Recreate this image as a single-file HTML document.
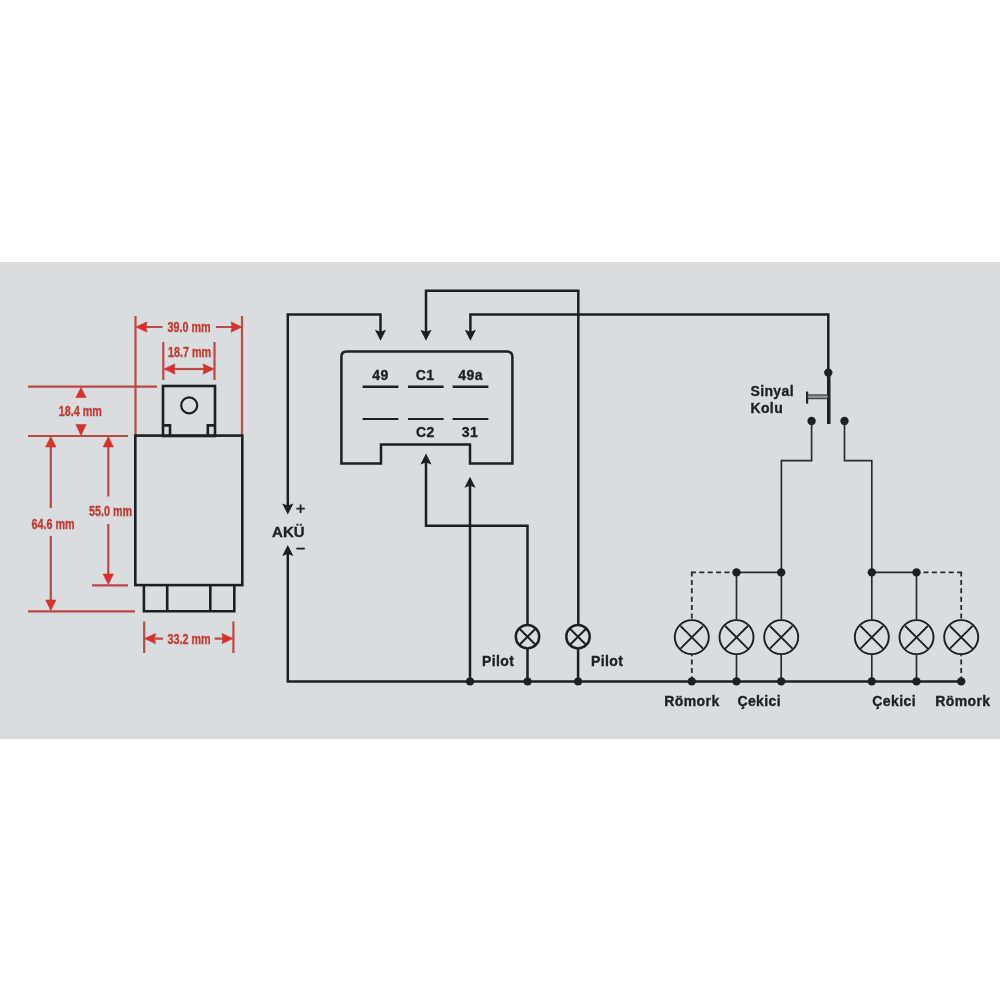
<!DOCTYPE html>
<html><head><meta charset="utf-8">
<style>
html,body{margin:0;padding:0;background:#fff;width:1000px;height:1000px;overflow:hidden}
svg{display:block;will-change:transform}
.r{font-family:"Liberation Sans",sans-serif;font-weight:bold;fill:#c43a31;stroke:#c43a31;stroke-width:0.35}
.t{font-family:"Liberation Sans",sans-serif;font-weight:bold;fill:#1f2023;stroke:#1f2023;stroke-width:0.35}
</style></head>
<body>
<svg width="1000" height="1000" viewBox="0 0 1000 1000">
<rect x="0" y="262" width="1000" height="477" fill="#d9dde0"/>
<rect x="0" y="262" width="1000" height="9" fill="#dcdcdc"/>
<rect x="0" y="736" width="1000" height="3" fill="#dadada"/>

<!-- RED dimensions -->
<g stroke="#bb4a44" stroke-width="2.2" fill="none">
  <path d="M135.5 316V436M242 316V436"/>
  <path d="M146 327H162.5M216 327H232"/>
  <path d="M163.3 342V380M214.5 342V380"/>
  <path d="M173 369H205"/>
  <path d="M28 386.6H157M28 436H128M28 611.3H135M92 585.3H128"/>
  <path d="M50.8 446V508M50.8 536V601"/>
  <path d="M108.3 446V496.5M108.3 524V575"/>
  <path d="M144.2 621.6V653M233.4 621.6V653"/>
  <path d="M155 638.6H163M214.6 638.6H223"/>
</g>
<g fill="#dc2f2c" stroke="#c0302c" stroke-width="0.5">
  <path d="M136 327L147 321.8L146 327L147 332.2Z"/>
  <path d="M242 327L231 321.8L232 327L231 332.2Z"/>
  <path d="M164 369L175 363.8L174 369L175 374.2Z"/>
  <path d="M214 369L203 363.8L204 369L203 374.2Z"/>
  <path d="M81 387.5L86.2 397.5L75.8 397.5Z"/>
  <path d="M81 435.5L86.2 424.5L75.8 424.5Z"/>
  <path d="M50.8 436.5L56 447L45.6 447Z"/>
  <path d="M50.8 610.5L56 600L45.6 600Z"/>
  <path d="M108.3 436.5L113.5 447L103.1 447Z"/>
  <path d="M108.3 584.5L113.5 574L103.1 574Z"/>
  <path d="M144.5 638.6L155.5 633.4L154.5 638.6L155.5 643.8Z"/>
  <path d="M233 638.6L222 633.4L223 638.6L222 643.8Z"/>
</g>
<g class="r" font-size="15.3">
  <text x="189" y="331.85" text-anchor="middle" transform="translate(189 0) scale(0.705 1) translate(-189 0)">39.0 mm</text>
  <text x="189.5" y="356.65" text-anchor="middle" transform="translate(189.5 0) scale(0.705 1) translate(-189.5 0)">18.7 mm</text>
  <text x="80.3" y="415.85" text-anchor="middle" transform="translate(80.3 0) scale(0.705 1) translate(-80.3 0)">18.4 mm</text>
  <text x="53.1" y="528.75" text-anchor="middle" transform="translate(53.1 0) scale(0.705 1) translate(-53.1 0)">64.6 mm</text>
  <text x="110.6" y="516.15" text-anchor="middle" transform="translate(110.6 0) scale(0.705 1) translate(-110.6 0)">55.0 mm</text>
  <text x="189.1" y="643.65" text-anchor="middle" transform="translate(189.1 0) scale(0.705 1) translate(-189.1 0)">33.2 mm</text>
</g>

<!-- relay body -->
<g stroke="#1e1f22" stroke-width="2.6" fill="none">
  <rect x="163" y="386" width="52" height="50"/>
  <circle cx="189.2" cy="405.4" r="8" stroke-width="2.2"/>
  <path d="M163 425.4H170V436M215 425.4H207.8V436"/>
  <rect x="135.3" y="435.6" width="107" height="149.5"/>
  <path d="M143.9 585.1V611.3H234.3V585.1M167.2 585.1V611.3M210.3 585.1V611.3"/>
</g>

<!-- circuit -->
<g stroke="#1e1f22" stroke-width="2.5" fill="none">
  <path d="M287.8 508V314.4H380.5V335"/>
  <path d="M426 335V290.7H578.3V624.5M578.1 648.5V681.4"/>
  <path d="M470.4 335V314.4H828.3V372.6"/>
  <path d="M341.4 463.5V356.8Q341.4 351.6 346.6 351.6H507.2Q512.4 351.6 512.4 356.8V463.5H470V444.4H381V463.5Z"/>
  <path d="M426 459V525.8H527.5V624.5M527.5 648.5V681.4"/>
  <path d="M470 482V681.4"/>
  <path d="M287.8 551V681.4H961.2"/>
  <circle cx="527.5" cy="636.7" r="11.7"/>
  <circle cx="578" cy="636.7" r="11.7"/>
</g>
<g stroke="#1e1f22" stroke-width="2" fill="none">
  <path d="M519.5 628.7L535.5 644.7M535.5 628.7L519.5 644.7M570 628.7L586 644.7M586 628.7L570 644.7"/>
  <path d="M362.6 386.8H398.4M408 386.8H443.6M452.6 386.8H488.4" stroke-width="2.4"/>
  <path d="M362.6 419H398.4M408 419H443.6M452.6 419H488.4"/>
</g>
<g fill="#1e1f22">
  <path d="M380.5 340.8L386.1 329.8L380.5 331.8L374.9 329.8Z"/>
  <path d="M426 340.8L431.6 329.8L426 331.8L420.4 329.8Z"/>
  <path d="M470.4 340.8L476.0 329.8L470.4 331.8L464.8 329.8Z"/>
  <path d="M426 453.5L431.6 464.5L426 462.5L420.4 464.5Z"/>
  <path d="M470 476.8L475.6 487.8L470 485.8L464.4 487.8Z"/>
  <path d="M287.8 514.5L293.4 503.5L287.8 505.5L282.2 503.5Z"/>
  <path d="M287.8 545L293.4 556.0L287.8 554.0L282.2 556.0Z"/>
  <circle cx="470" cy="681.4" r="4"/>
  <circle cx="527.6" cy="681.4" r="4"/>
  <circle cx="578.1" cy="681.4" r="4"/>
</g>
<g class="t" font-size="14" letter-spacing="0.4">
  <text x="380.4" y="380" text-anchor="middle">49</text>
  <text x="425" y="380" text-anchor="middle">C1</text>
  <text x="470.6" y="380" text-anchor="middle">49a</text>
  <text x="425.4" y="437" text-anchor="middle">C2</text>
  <text x="470" y="437" text-anchor="middle">31</text>
  <text x="288.3" y="536.8" text-anchor="middle" font-size="15" letter-spacing="0">AKÜ</text>
  <text x="482" y="665.8">Pilot</text>
  <text x="591" y="665.8">Pilot</text>
  <text x="750.4" y="396.2">Sinyal</text>
  <text x="750.4" y="413.2">Kolu</text>
  <text x="664.3" y="705.6">Römork</text>
  <text x="737.4" y="705.6">Çekici</text>
  <text x="872.3" y="705.6">Çekici</text>
  <text x="935.2" y="705.6">Römork</text>
</g>
<g stroke="#1e1f22" stroke-width="1.8" fill="none">
  <path d="M296.4 508.7H304.8M300.6 504.5V512.9"/>
  <path d="M296.4 548.6H304.8"/>
</g>

<!-- switch -->
<g fill="#1e1f22">
  <circle cx="828.3" cy="372.6" r="4.2"/>
  <rect x="827" y="372" width="3.5" height="52"/>
  <rect x="806" y="391.6" width="2.2" height="12"/>
  <circle cx="811.6" cy="421" r="4.2"/>
  <circle cx="844.5" cy="421" r="4.2"/>
</g>
<rect x="807.5" y="394.9" width="20.5" height="3.8" fill="#8e9093" stroke="#2e2f32" stroke-width="1"/>
<g stroke="#2a2b2e" stroke-width="1.65" fill="none">
  <path d="M811.6 421V460.6H781.4V619.5M844.5 421V460.6H871.8V619.5"/>
  <path d="M736.5 572.4H781.2M871.8 572.4H916.5"/>
  <path d="M736.5 572V619.5M736.5 654.5V681.4M781.2 654.5V681.4M871.8 654.5V681.4M916.5 572V619.5M916.5 654.5V681.4"/>
</g>
<g stroke="#2a2b2e" stroke-width="1.8" fill="none" stroke-dasharray="5 3.4">
  <path d="M690.9 572.4H736.5M691.8 571.5V619.5M691.8 681.4V654.5"/>
  <path d="M962.1 572.4H916.5M961.2 571.5V619.5M961.2 681.4V654.5"/>
</g>
<g stroke="#1e1f22" stroke-width="1.9" fill="none">
  <circle cx="691.8" cy="637.1" r="17"/>
  <circle cx="736.5" cy="637.1" r="17"/>
  <circle cx="781.2" cy="637.1" r="17"/>
  <circle cx="871.8" cy="637.1" r="17"/>
  <circle cx="916.5" cy="637.1" r="17"/>
  <circle cx="961.2" cy="637.1" r="17"/>
</g>
<g stroke="#1e1f22" stroke-width="1.8" fill="none" stroke-linecap="round">
  <path d="M681.0 626.5L702.6 648.1M702.6 626.5L681.0 648.1"/>
  <path d="M725.7 626.5L747.3 648.1M747.3 626.5L725.7 648.1"/>
  <path d="M770.4 626.5L792.0 648.1M792.0 626.5L770.4 648.1"/>
  <path d="M861.0 626.5L882.6 648.1M882.6 626.5L861.0 648.1"/>
  <path d="M905.7 626.5L927.3 648.1M927.3 626.5L905.7 648.1"/>
  <path d="M950.4 626.5L972.0 648.1M972.0 626.5L950.4 648.1"/>
</g>
<g fill="#1e1f22">
  <circle cx="736.5" cy="572.4" r="4.2"/>
  <circle cx="781.2" cy="572.4" r="4.2"/>
  <circle cx="871.8" cy="572.4" r="4.2"/>
  <circle cx="916.5" cy="572.4" r="4.2"/>
  <circle cx="691.8" cy="681.4" r="4.2"/>
  <circle cx="736.5" cy="681.4" r="4.2"/>
  <circle cx="781.2" cy="681.4" r="4.2"/>
  <circle cx="871.8" cy="681.4" r="4.2"/>
  <circle cx="916.5" cy="681.4" r="4.2"/>
  <circle cx="961.2" cy="681.4" r="4.2"/>
</g>
</svg>
</body></html>
